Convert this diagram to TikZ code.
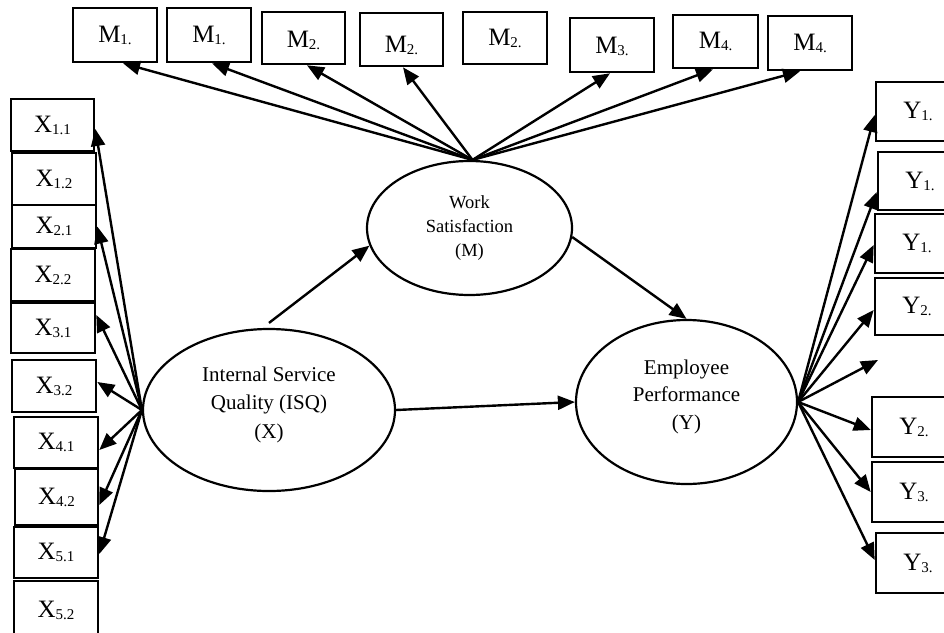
\documentclass[tikz,border=0pt]{standalone}
\usepackage{fontspec}
\setmainfont{Liberation Serif}
\usetikzlibrary{shapes.geometric,arrows.meta}
\newcommand\sbs[1]{\raisebox{-2pt}{\fontsize{15}{15}\selectfont #1}}
\newcommand\liftup[2]{\raisebox{#1}[\height][\depth]{\begin{tabular}{@{}c@{}}#2\end{tabular}}}
\begin{document}
\begin{tikzpicture}[x=1pt,y=-1pt,
  obox/.style={draw, line width=2.6pt, inner sep=0pt, font=\fontsize{25}{30}\selectfont},
  lat/.style={draw, ellipse, line width=2.2pt, inner sep=0pt},
  arr/.style={line width=2.4pt, -{Triangle[length=17pt,width=14pt]}},
]
\useasboundingbox (0,0) rectangle (944,632);
\clip (0,0) rectangle (944,632);
\fill[white] (0,0) rectangle (944,632);

% latent variables
\node[lat, minimum width=252pt, minimum height=162pt, font=\fontsize{21}{28.5}\selectfont] (X) at (269,410) {\liftup{6pt}{Internal Service\\Quality (ISQ)\\(X)}};
\node[lat, minimum width=205pt, minimum height=134pt, font=\fontsize{18.5}{24}\selectfont] (M) at (469.5,228) {\liftup{0pt}{Work\\Satisfaction\\(M)}};
\node[lat, minimum width=221pt, minimum height=164pt, font=\fontsize{21}{27.5}\selectfont] (Y) at (686.5,402) {\liftup{6pt}{Employee\\Performance\\(Y)}};

% X indicators
\node[obox, minimum width=83pt, minimum height=52pt] (x11) at (52.5,125) {X\sbs{1.1}};
\node[obox, minimum width=84pt, minimum height=52pt] (x12) at (54,179) {X\sbs{1.2}};
\node[obox, minimum width=84pt, minimum height=43pt] (x21) at (54,226.5) {X\sbs{2.1}};
\node[obox, minimum width=84pt, minimum height=52pt] (x22) at (53,275) {X\sbs{2.2}};
\node[obox, minimum width=84pt, minimum height=50pt] (x31) at (53,328) {X\sbs{3.1}};
\node[obox, minimum width=84pt, minimum height=52pt] (x32) at (54,386) {X\sbs{3.2}};
\node[obox, minimum width=84pt, minimum height=51pt] (x41) at (56,442.5) {X\sbs{4.1}};
\node[obox, minimum width=83pt, minimum height=56pt] (x42) at (56.5,497) {X\sbs{4.2}};
\node[obox, minimum width=84pt, minimum height=51pt] (x51) at (56,552.5) {X\sbs{5.1}};
\node[obox, minimum width=84pt, minimum height=58pt] (x52) at (56,610) {X\sbs{5.2}};

% M indicators
\node[obox, minimum width=84pt, minimum height=54pt] (m1a) at (115,35) {M\sbs{1.}};
\node[obox, minimum width=84pt, minimum height=54pt] (m1b) at (209,35) {M\sbs{1.}};
\node[obox, minimum width=83pt, minimum height=52pt] (m2a) at (303.5,38) {\liftup{-3pt}{M\sbs{2.}}};
\node[obox, minimum width=83pt, minimum height=53pt] (m2b) at (401.5,39.5) {\liftup{-7pt}{M\sbs{2.}}};
\node[obox, minimum width=84pt, minimum height=52pt] (m2c) at (505,38) {M\sbs{2.}};
\node[obox, minimum width=84pt, minimum height=54pt] (m3) at (612,45) {\liftup{-2pt}{M\sbs{3.}}};
\node[obox, minimum width=85pt, minimum height=53pt] (m4a) at (715.5,41.5) {M\sbs{4.}};
\node[obox, minimum width=84pt, minimum height=54pt] (m4b) at (810,43) {M\sbs{4.}};

% Y indicators
\node[obox, minimum width=84pt, minimum height=59pt] (y1a) at (918,111.5) {Y\sbs{1.}};
\node[obox, minimum width=84pt, minimum height=58pt] (y1b) at (920,181) {Y\sbs{1.}};
\node[obox, minimum width=84pt, minimum height=59pt] (y1c) at (917,243.5) {Y\sbs{1.}};
\node[obox, minimum width=84pt, minimum height=57pt] (y2a) at (917,306.5) {Y\sbs{2.}};
\node[obox, minimum width=84pt, minimum height=60pt] (y2b) at (914,427) {Y\sbs{2.}};
\node[obox, minimum width=84pt, minimum height=60pt] (y3a) at (914,492) {Y\sbs{3.}};
\node[obox, minimum width=84pt, minimum height=60pt] (y3b) at (918,563) {Y\sbs{3.}};
\coordinate (yfree) at (878,360);

% structural paths
\draw[arr] ([yshift=5pt]X.north) -- (M.190);
\draw[arr] (M.-5) -- (Y.north);
\draw[arr] (X.east) -- (Y.west);

% X loadings
\draw[arr] (X.west) -- ([yshift=-4pt]x11.east);
\draw[arr] (X.west) -- (x21.east);
\draw[arr] (X.west) -- ([yshift=13pt]x31.east);
\draw[arr] (X.west) -- ([yshift=4pt]x32.east);
\draw[arr] (X.west) -- ([yshift=-7.5pt]x41.east);
\draw[arr] (X.west) -- ([yshift=-8pt]x42.east);
\draw[arr] (X.west) -- ([yshift=-1.5pt]x51.east);

% M loadings
\coordinate (mtop) at ([xshift=3pt]M.north);
\draw[arr] (mtop) -- ([xshift=8pt]m1a.south);
\draw[arr] (mtop) -- ([xshift=3pt]m1b.south);
\draw[arr] (mtop) -- ([xshift=3.5pt]m2a.south);
\draw[arr] (mtop) -- ([xshift=1.5pt]m2b.south);
\draw[arr] (mtop) -- ([xshift=-2pt]m3.south);
\draw[arr] (mtop) -- ([xshift=-2.5pt]m4a.south);
\draw[arr] (mtop) -- ([xshift=-10pt]m4b.south);

% Y loadings
\draw[arr] (Y.east) -- ([yshift=-3.5pt]y1a.west);
\draw[arr] (Y.east) -- ([yshift=-11pt]y1b.west);
\draw[arr] (Y.east) -- ([yshift=-1.5pt]y1c.west);
\draw[arr] (Y.east) -- ([yshift=-3.5pt]y2a.west);
\draw[arr] (Y.east) -- (yfree);
\draw[arr] (Y.east) -- ([yshift=-3pt]y2b.west);
\draw[arr] (Y.east) -- (y3a.west);
\draw[arr] (Y.east) -- ([yshift=3pt]y3b.west);
\end{tikzpicture}
\end{document}
